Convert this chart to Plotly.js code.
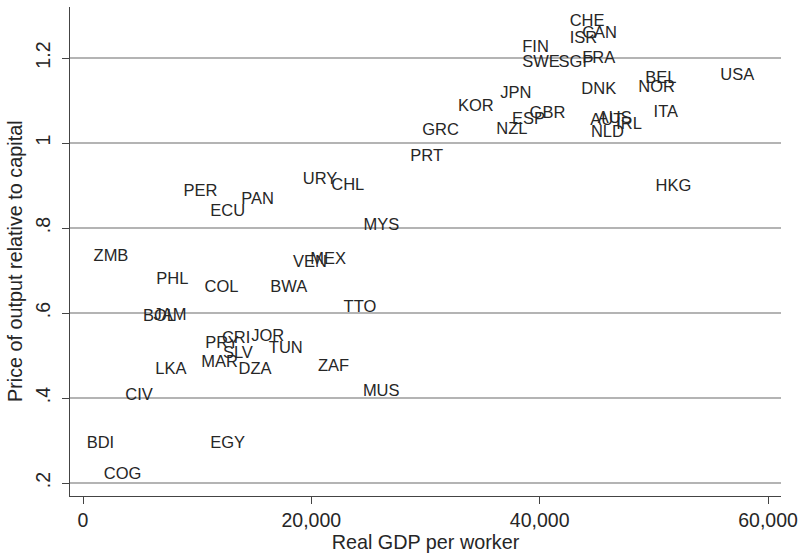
<!DOCTYPE html>
<html>
<head>
<meta charset="utf-8">
<script src="https://cdn.plot.ly/plotly-3.0.1.min.js"></script>
<style>html,body{margin:0;padding:0;background:#fff;}#chart{width:806px;height:554px;}</style>
</head>
<body>
<div id="chart"></div>
<script>
// Country codes
const countries = ["CHE","CAN","ISR","FIN","SWE","SGP","FRA","USA","BEL","NOR","DNK","JPN","KOR","GBR","ESP","ITA","AUS","AUT","IRL","NLD","NZL","GRC","PRT","HKG","URY","CHL","PER","PAN","ECU","MYS","ZMB","VEN","MEX","PHL","COL","BWA","TTO","BOL","JAM","PRY","CRI","JOR","TUN","SLV","MAR","DZA","LKA","ZAF","CIV","MUS","BDI","EGY","COG"];
// Real GDP per worker
const gdpPerWorker = [42625,43725,42625,38475,38475,41655,43725,55825,49255,48635,43645,36545,32835,39115,37565,49975,45095,44435,46705,44485,36195,29715,28665,50145,19255,21745,8805,13865,11145,24575,925,18385,19905,6415,10645,16405,22825,5245,6175,10705,12165,14735,16275,12255,10355,13625,6325,20575,3705,24515,325,11145,1825];
// Price of output relative to capital
const priceRatio = [1.284,1.256,1.244,1.223,1.188,1.188,1.197,1.157,1.150,1.129,1.124,1.116,1.084,1.069,1.054,1.070,1.057,1.051,1.043,1.024,1.030,1.028,0.968,0.896,0.914,0.900,0.884,0.865,0.837,0.806,0.733,0.717,0.724,0.677,0.659,0.659,0.611,0.590,0.593,0.527,0.538,0.543,0.516,0.504,0.483,0.466,0.465,0.473,0.406,0.415,0.292,0.292,0.220];

const xTicks = [0, 20000, 40000, 60000];
const xTickText = ["0", "20,000", "40,000", "60,000"];
const yTicks = [0.2, 0.4, 0.6, 0.8, 1.0, 1.2];
const yTickText = [".2", ".4", ".6", ".8", "1", "1.2"];

const font = "Liberation Sans, Arial, Helvetica, sans-serif";
const txtColor = "#262626";

const trace = {
  x: gdpPerWorker,
  y: priceRatio,
  text: countries,
  mode: "text",
  type: "scatter",
  textposition: "middle right",
  textfont: {family: font, size: 16.5, color: txtColor},
  hoverinfo: "text+x+y",
  cliponaxis: false
};

const layout = {
  width: 806,
  height: 554,
  margin: {l: 70, r: 25, t: 7, b: 58},
  paper_bgcolor: "#ffffff",
  plot_bgcolor: "#ffffff",
  showlegend: false,
  font: {family: font, color: txtColor},
  xaxis: {
    range: [-1139, 61137],
    tickvals: xTicks,
    ticktext: xTickText,
    showgrid: false,
    zeroline: false,
    showline: true,
    linecolor: "#444",
    linewidth: 1,
    ticks: "outside",
    ticklen: 7,
    tickcolor: "#444",
    tickfont: {family: font, size: 19.5, color: txtColor},
    title: {text: "Real GDP per worker", font: {family: font, size: 19.8, color: txtColor}, standoff: 2}
  },
  yaxis: {
    range: [0.1694, 1.32],
    tickvals: yTicks,
    ticktext: yTickText,
    tickangle: -90,
    showgrid: true,
    gridcolor: "#b4b4b4",
    gridwidth: 1.5,
    zeroline: false,
    showline: true,
    linecolor: "#444",
    linewidth: 1,
    ticks: "outside",
    ticklen: 7,
    tickcolor: "#444",
    ticklabelstandoff: 4,
    tickfont: {family: font, size: 19.5, color: txtColor}
  },
  annotations: [{
    text: "Price of output relative to capital",
    xref: "paper", yref: "paper",
    x: -0.0774, y: 0.4806,
    xanchor: "center", yanchor: "middle",
    textangle: -90,
    showarrow: false,
    font: {family: font, size: 19.8, color: txtColor}
  }]
};

Plotly.newPlot("chart", [trace], layout, {displayModeBar: false, staticPlot: true});
</script>
</body>
</html>
